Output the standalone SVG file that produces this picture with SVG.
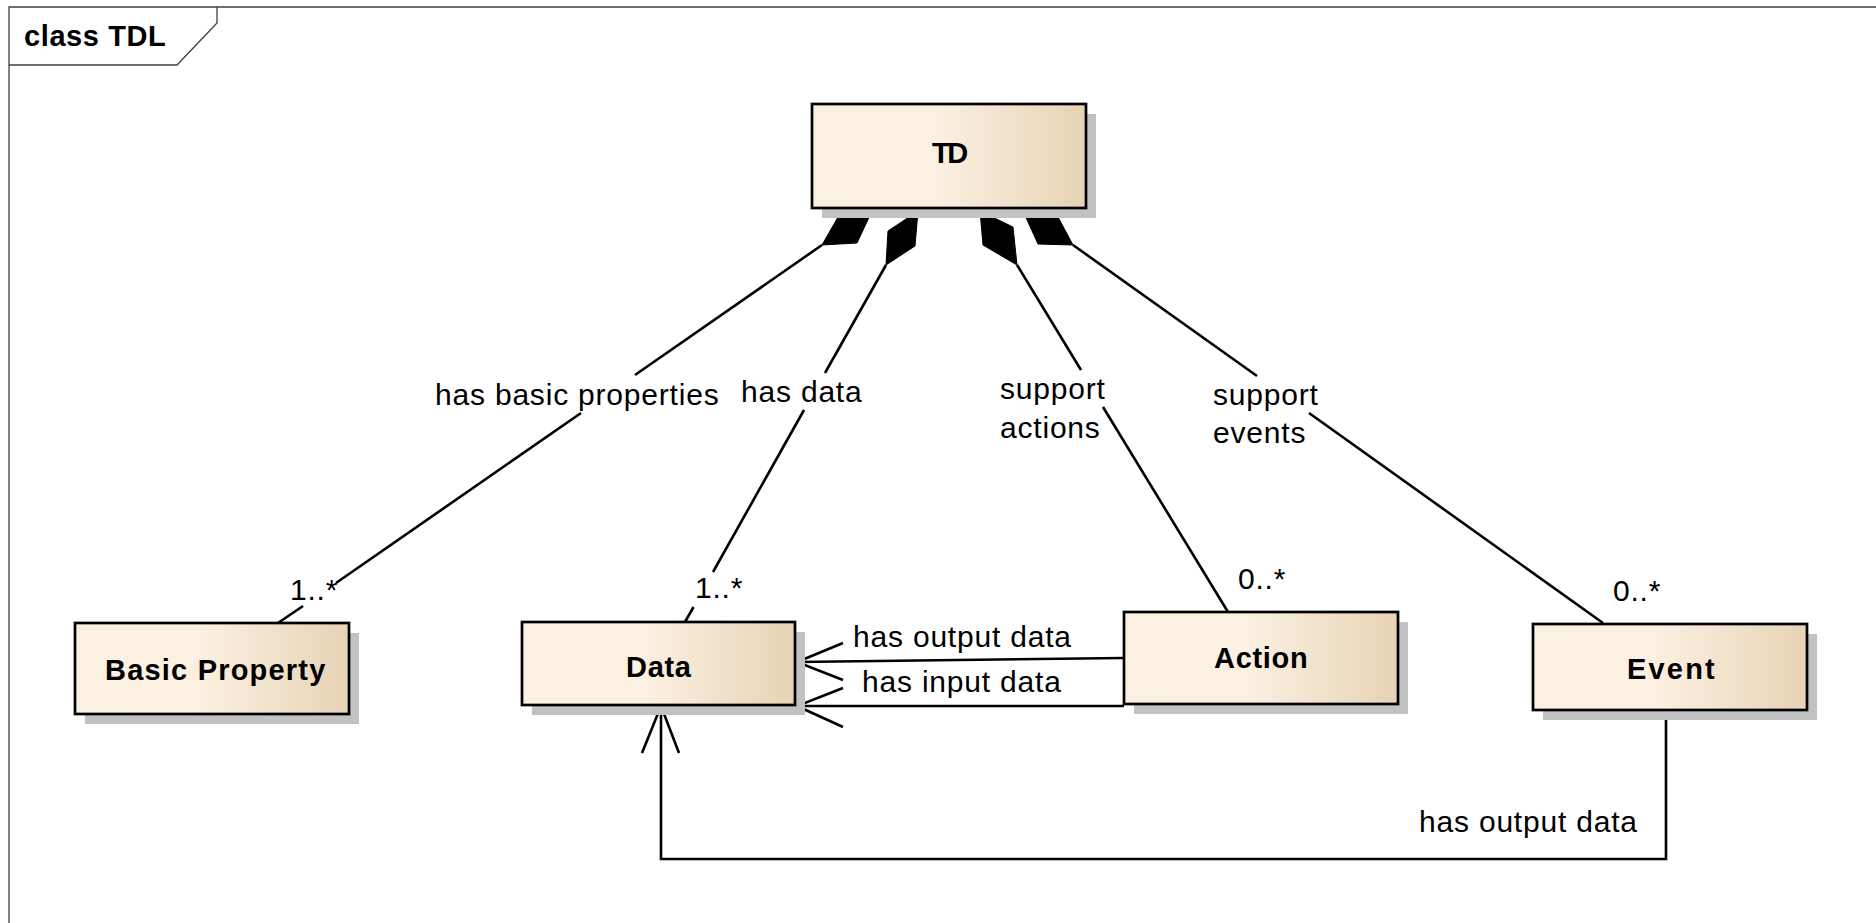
<svg xmlns="http://www.w3.org/2000/svg" width="1876" height="923" viewBox="0 0 1876 923">
<defs>
<linearGradient id="fill" x1="0" y1="0" x2="1" y2="0">
<stop offset="0" stop-color="#FBF1E3"/>
<stop offset="0.45" stop-color="#FBF0E1"/>
<stop offset="1" stop-color="#E7D3B5"/>
</linearGradient>
<style>
.frame{fill:none;stroke:#404040;stroke-width:1.3}
.shadow{fill:#C2C2C2}
.box{fill:url(#fill);stroke:#000;stroke-width:2.7}
.name{font-family:"Liberation Sans",Arial,sans-serif;font-weight:bold;font-size:29px;letter-spacing:0.7px;fill:#000}
.title{font-family:"Liberation Sans",Arial,sans-serif;font-weight:bold;font-size:29px;letter-spacing:0.6px;fill:#000}
.lbl{font-family:"Liberation Sans",Arial,sans-serif;font-size:30px;letter-spacing:0.8px;fill:#000}
.ln{fill:none;stroke:#000;stroke-width:2.6}
.dia{fill:#000;stroke:#000;stroke-width:1}
.arr{fill:none;stroke:#000;stroke-width:2.6;stroke-linejoin:miter}
</style>
</defs>
<rect width="1876" height="923" fill="#fff"/>
<g id="frame">
<path class="frame" d="M9,923 V7 H1876"/>
<path class="frame" d="M9,65 H177 L217,23 V7"/>
<text class="title" x="24" y="46">class TDL</text>
</g>
<g id="connectors">
<g id="c-basic">
<polygon class="dia" points="872,211 838,217 822,245 857,243"/>
<line class="ln" x1="822" y1="245" x2="635" y2="375"/>
<line class="ln" x1="581" y1="413" x2="336" y2="583"/>
<line class="ln" x1="303" y1="606" x2="278" y2="623"/>
<text class="lbl" x="435" y="405">has basic properties</text>
<text class="lbl" x="290" y="600">1..*</text>
</g>
<g id="c-data">
<polygon class="dia" points="918,211 888,231 886,265 915,246"/>
<line class="ln" x1="886" y1="265" x2="825" y2="373"/>
<line class="ln" x1="804" y1="410" x2="713" y2="572"/>
<line class="ln" x1="693.5" y1="607" x2="685" y2="622"/>
<text class="lbl" x="741" y="402">has data</text>
<text class="lbl" x="695" y="598">1..*</text>
</g>
<g id="c-action">
<polygon class="dia" points="980,211 1013,227 1017,265 983,245"/>
<line class="ln" x1="1017" y1="265" x2="1081" y2="370"/>
<line class="ln" x1="1103" y1="407" x2="1228" y2="612"/>
<text class="lbl" x="1000" y="399">support</text>
<text class="lbl" x="1000" y="438">actions</text>
<text class="lbl" x="1238" y="589">0..*</text>
</g>
<g id="c-event">
<polygon class="dia" points="1023,211 1058,217 1073,245 1038,244"/>
<line class="ln" x1="1073" y1="245" x2="1257" y2="376"/>
<line class="ln" x1="1309" y1="413" x2="1603" y2="623"/>
<text class="lbl" x="1213" y="405">support</text>
<text class="lbl" x="1213" y="443">events</text>
<text class="lbl" x="1613" y="601">0..*</text>
</g>
<g id="c-action-output">
<line class="ln" x1="1124" y1="658" x2="797" y2="662"/>
<polyline class="arr" points="843,643 797,662 843,680"/>
<text class="lbl" x="853" y="647">has output data</text>
</g>
<g id="c-action-input">
<line class="ln" x1="1124" y1="706" x2="797" y2="706"/>
<polyline class="arr" points="843,688 797,706 843,727"/>
<text class="lbl" x="862" y="692">has input data</text>
</g>
<g id="c-event-output">
<polyline class="ln" points="1666,710 1666,859 661,859 661,707"/>
<polyline class="arr" points="642,753 661,706 679,753"/>
<text class="lbl" x="1419" y="832">has output data</text>
</g>
</g>
<g id="node-td">
<rect class="shadow" x="822" y="114" width="274" height="104"/>
<rect class="box" x="812" y="104" width="274" height="104"/>
<text class="name" x="932" y="163" style="letter-spacing:-2.5px">TD</text>
</g>
<g id="node-basic-property">
<rect class="shadow" x="85" y="633" width="274" height="91"/>
<rect class="box" x="75" y="623" width="274" height="91"/>
<text class="name" x="105" y="680" style="letter-spacing:1.2px">Basic Property</text>
</g>
<g id="node-data">
<rect class="shadow" x="532" y="632" width="273" height="83"/>
<rect class="box" x="522" y="622" width="273" height="83"/>
<text class="name" x="626" y="677">Data</text>
</g>
<g id="node-action">
<rect class="shadow" x="1134" y="622" width="274" height="92"/>
<rect class="box" x="1124" y="612" width="274" height="92"/>
<text class="name" x="1214" y="668">Action</text>
</g>
<g id="node-event">
<rect class="shadow" x="1543" y="634" width="274" height="86"/>
<rect class="box" x="1533" y="624" width="274" height="86"/>
<text class="name" x="1627" y="679" style="letter-spacing:2.2px">Event</text>
</g>
</svg>
